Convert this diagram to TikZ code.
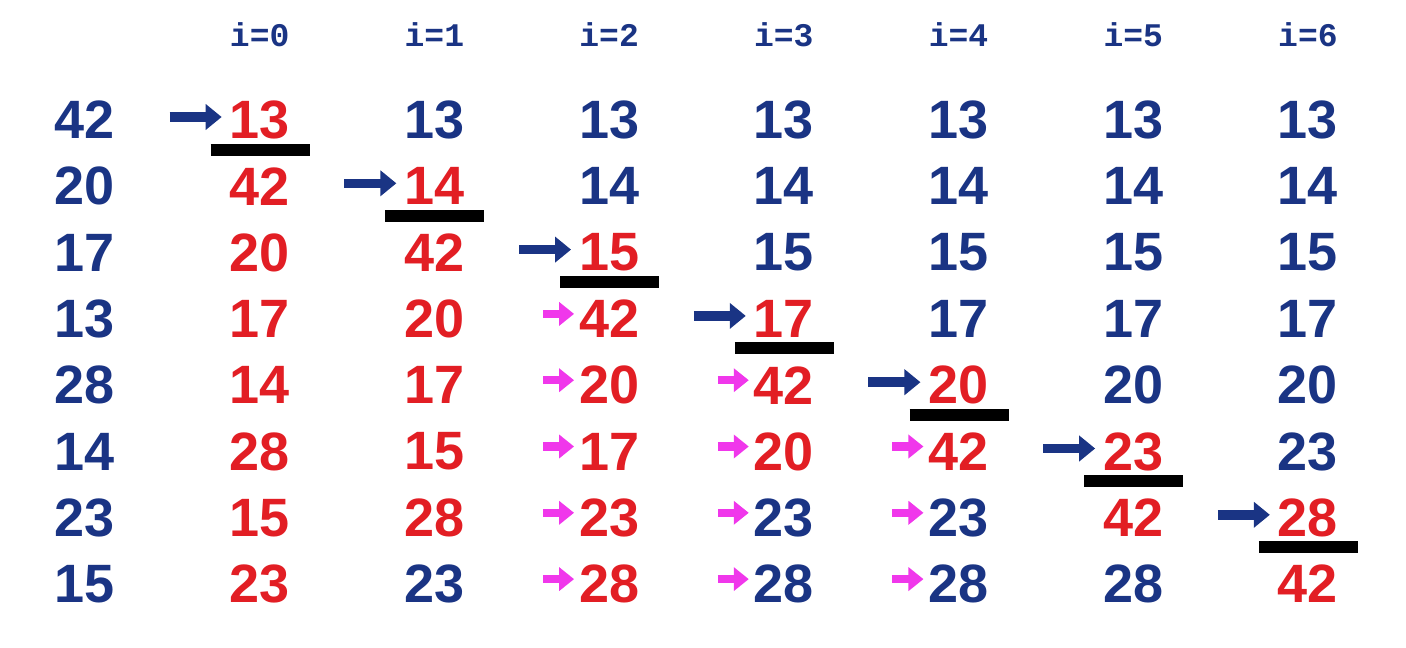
\documentclass[tikz,border=0pt]{standalone}
\usepackage{fontspec}
\setmainfont{Liberation Sans}
\setmonofont{Liberation Mono}
\usetikzlibrary{arrows.meta,positioning}
\definecolor{navy}{RGB}{26,52,132}
\definecolor{hot}{RGB}{226,30,36}
\definecolor{shiftpink}{RGB}{240,55,235}

\begin{document}
\begin{tikzpicture}[
  x=1pt, y=-1pt,
  node distance=0pt,
  num/.style={
    font=\fontsize{54}{60}\selectfont\bfseries,
    text=navy,
    inner sep=0pt,
    outer sep=0pt,
    minimum height=66.3pt
  },
  moved/.style={num, text=hot},
  passlabel/.style={font=\fontsize{33}{36}\selectfont\ttfamily\bfseries, text=navy, inner sep=0pt},
  pick/.style={-{Triangle[length=16pt,width=25pt]}, line width=9.5pt, draw=navy, shorten >=8pt},
  slide/.style={-{Triangle[length=15pt,width=23pt]}, line width=8.5pt, draw=shiftpink, shorten >=5pt},
  underbar/.style={line width=12pt, draw=black}
]
\useasboundingbox (0,0) rectangle (1406,648);

% pass labels
\node[passlabel] (h0) at (259.7,35) {i=0};
\node[passlabel] (h1) at (434.4,35) {i=1};
\node[passlabel] (h2) at (609.1,35) {i=2};
\node[passlabel] (h3) at (783.8,35) {i=3};
\node[passlabel] (h4) at (958.5,35) {i=4};
\node[passlabel] (h5) at (1133.2,35) {i=5};
\node[passlabel] (h6) at (1307.9,35) {i=6};

% start
\node[num] (s0) at (85,120) {42};
\node[num, below=of s0] (s1) {20};
\node[num, below=of s1] (s2) {17};
\node[num, below=of s2] (s3) {13};
\node[num, below=of s3] (s4) {28};
\node[num, below=of s4] (s5) {14};
\node[num, below=of s5] (s6) {23};
\node[num, below=of s6] (s7) {15};

% i=0
\node[moved] (p0r0) at (259.7,120) {13};
\node[moved, below=of p0r0] (p0r1) {42};
\node[moved, below=of p0r1] (p0r2) {20};
\node[moved, below=of p0r2] (p0r3) {17};
\node[moved, below=of p0r3] (p0r4) {14};
\node[moved, below=of p0r4] (p0r5) {28};
\node[moved, below=of p0r5] (p0r6) {15};
\node[moved, below=of p0r6] (p0r7) {23};

% i=1
\node[num] (p1r0) at (434.4,120) {13};
\node[moved, below=of p1r0] (p1r1) {14};
\node[moved, below=of p1r1] (p1r2) {42};
\node[moved, below=of p1r2] (p1r3) {20};
\node[moved, below=of p1r3] (p1r4) {17};
\node[moved, below=of p1r4] (p1r5) {15};
\node[moved, below=of p1r5] (p1r6) {28};
\node[num, below=of p1r6] (p1r7) {23};

% i=2
\node[num] (p2r0) at (609.1,120) {13};
\node[num, below=of p2r0] (p2r1) {14};
\node[moved, below=of p2r1] (p2r2) {15};
\node[moved, below=of p2r2] (p2r3) {42};
\node[moved, below=of p2r3] (p2r4) {20};
\node[moved, below=of p2r4] (p2r5) {17};
\node[moved, below=of p2r5] (p2r6) {23};
\node[moved, below=of p2r6] (p2r7) {28};

% i=3
\node[num] (p3r0) at (783.8,120) {13};
\node[num, below=of p3r0] (p3r1) {14};
\node[num, below=of p3r1] (p3r2) {15};
\node[moved, below=of p3r2] (p3r3) {17};
\node[moved, below=of p3r3] (p3r4) {42};
\node[moved, below=of p3r4] (p3r5) {20};
\node[num, below=of p3r5] (p3r6) {23};
\node[num, below=of p3r6] (p3r7) {28};

% i=4
\node[num] (p4r0) at (958.5,120) {13};
\node[num, below=of p4r0] (p4r1) {14};
\node[num, below=of p4r1] (p4r2) {15};
\node[num, below=of p4r2] (p4r3) {17};
\node[moved, below=of p4r3] (p4r4) {20};
\node[moved, below=of p4r4] (p4r5) {42};
\node[num, below=of p4r5] (p4r6) {23};
\node[num, below=of p4r6] (p4r7) {28};

% i=5
\node[num] (p5r0) at (1133.2,120) {13};
\node[num, below=of p5r0] (p5r1) {14};
\node[num, below=of p5r1] (p5r2) {15};
\node[num, below=of p5r2] (p5r3) {17};
\node[num, below=of p5r3] (p5r4) {20};
\node[moved, below=of p5r4] (p5r5) {23};
\node[moved, below=of p5r5] (p5r6) {42};
\node[num, below=of p5r6] (p5r7) {28};

% i=6
\node[num] (p6r0) at (1307.9,120) {13};
\node[num, below=of p6r0] (p6r1) {14};
\node[num, below=of p6r1] (p6r2) {15};
\node[num, below=of p6r2] (p6r3) {17};
\node[num, below=of p6r3] (p6r4) {20};
\node[num, below=of p6r4] (p6r5) {23};
\node[moved, below=of p6r5] (p6r6) {28};
\node[moved, below=of p6r6] (p6r7) {42};

% picked minimum
\draw[pick] ([xshift=-60pt,yshift=3pt]p0r0.west) -- ([yshift=3pt]p0r0.west);
\draw[pick] ([xshift=-60pt,yshift=3pt]p1r1.west) -- ([yshift=3pt]p1r1.west);
\draw[pick] ([xshift=-60pt,yshift=3pt]p2r2.west) -- ([yshift=3pt]p2r2.west);
\draw[pick] ([xshift=-60pt,yshift=3pt]p3r3.west) -- ([yshift=3pt]p3r3.west);
\draw[pick] ([xshift=-60pt,yshift=3pt]p4r4.west) -- ([yshift=3pt]p4r4.west);
\draw[pick] ([xshift=-60pt,yshift=3pt]p5r5.west) -- ([yshift=3pt]p5r5.west);
\draw[pick] ([xshift=-60pt,yshift=3pt]p6r6.west) -- ([yshift=3pt]p6r6.west);

% sorted part ends here
\draw[underbar] ([xshift=-49pt,yshift=-29.5pt]p0r0.center) -- ++(99,0);
\draw[underbar] ([xshift=-49pt,yshift=-29.5pt]p1r1.center) -- ++(99,0);
\draw[underbar] ([xshift=-49pt,yshift=-29.5pt]p2r2.center) -- ++(99,0);
\draw[underbar] ([xshift=-49pt,yshift=-29.5pt]p3r3.center) -- ++(99,0);
\draw[underbar] ([xshift=-49pt,yshift=-29.5pt]p4r4.center) -- ++(99,0);
\draw[underbar] ([xshift=-49pt,yshift=-29.5pt]p5r5.center) -- ++(99,0);
\draw[underbar] ([xshift=-49pt,yshift=-29.5pt]p6r6.center) -- ++(99,0);

% shifted down
\draw[slide] ([xshift=-36pt,yshift=5pt]p2r3.west) -- ([yshift=5pt]p2r3.west);
\draw[slide] ([xshift=-36pt,yshift=5pt]p2r4.west) -- ([yshift=5pt]p2r4.west);
\draw[slide] ([xshift=-36pt,yshift=5pt]p2r5.west) -- ([yshift=5pt]p2r5.west);
\draw[slide] ([xshift=-36pt,yshift=5pt]p2r6.west) -- ([yshift=5pt]p2r6.west);
\draw[slide] ([xshift=-36pt,yshift=5pt]p2r7.west) -- ([yshift=5pt]p2r7.west);
\draw[slide] ([xshift=-36pt,yshift=5pt]p3r4.west) -- ([yshift=5pt]p3r4.west);
\draw[slide] ([xshift=-36pt,yshift=5pt]p3r5.west) -- ([yshift=5pt]p3r5.west);
\draw[slide] ([xshift=-36pt,yshift=5pt]p3r6.west) -- ([yshift=5pt]p3r6.west);
\draw[slide] ([xshift=-36pt,yshift=5pt]p3r7.west) -- ([yshift=5pt]p3r7.west);
\draw[slide] ([xshift=-36pt,yshift=5pt]p4r5.west) -- ([yshift=5pt]p4r5.west);
\draw[slide] ([xshift=-36pt,yshift=5pt]p4r6.west) -- ([yshift=5pt]p4r6.west);
\draw[slide] ([xshift=-36pt,yshift=5pt]p4r7.west) -- ([yshift=5pt]p4r7.west);
\end{tikzpicture}
\end{document}
